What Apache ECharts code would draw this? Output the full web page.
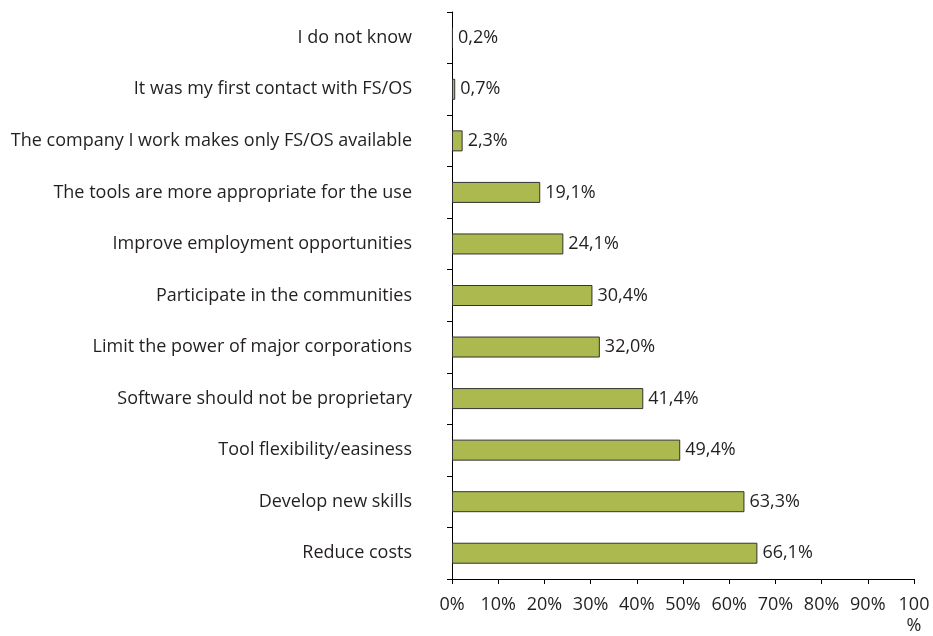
<!DOCTYPE html>
<html>
<head>
<meta charset="utf-8">
<script src="https://cdn.jsdelivr.net/npm/echarts@6/dist/echarts.min.js"></script>
<style>
  html, body { margin: 0; padding: 0; background: #fff; }
  #chart { width: 933px; height: 636px; }
</style>
</head>
<body>
<div id="chart"></div>
<script>
// Reasons given for using FS/OS, share of respondents (%)
const categories = [
  "Reduce costs",
  "Develop new skills",
  "Tool flexibility/easiness",
  "Software should not be proprietary",
  "Limit the power of major corporations",
  "Participate in the communities",
  "Improve employment opportunities",
  "The tools are more appropriate for the use",
  "The company I work makes only FS/OS available",
  "It was my first contact with FS/OS",
  "I do not know"
];
const values = [66.1, 63.3, 49.4, 41.4, 32.0, 30.4, 24.1, 19.1, 2.3, 0.7, 0.2];
const xTicks = [0, 10, 20, 30, 40, 50, 60, 70, 80, 90, 100];

const textColor = "#231f20";
const fontFamily = "'Open Sans', 'Noto Sans', sans-serif";

const chart = echarts.init(document.getElementById("chart"), null, { renderer: "canvas" });
chart.setOption({
  animation: false,
  backgroundColor: "#ffffff",
  grid: { left: 452, right: 19, top: 12, bottom: 54, containLabel: false },
  xAxis: {
    type: "value",
    min: xTicks[0],
    max: xTicks[xTicks.length - 1],
    interval: 10,
    axisLine: { show: true, lineStyle: { color: "#000", width: 1 } },
    axisTick: { show: true, length: 5, inside: false, lineStyle: { color: "#000" } },
    splitLine: { show: false },
    axisLabel: {
      color: textColor,
      fontFamily: fontFamily,
      fontSize: 18,
      margin: 15,
      lineHeight: 21,
      formatter: v => (v === 100 ? "100\n%" : v + "%")
    }
  },
  yAxis: {
    type: "category",
    data: categories,
    axisLine: { show: true, lineStyle: { color: "#000", width: 1 } },
    axisTick: { show: true, length: 5, inside: false, alignWithLabel: false, lineStyle: { color: "#000" } },
    axisLabel: {
      color: textColor,
      fontFamily: fontFamily,
      fontSize: 18,
      margin: 40
    },
    splitLine: { show: false }
  },
  series: [{
    type: "bar",
    data: values,
    barWidth: 21,
    itemStyle: { color: "#acb94f", borderColor: "#333", borderWidth: 1 },
    label: {
      show: true,
      position: "right",
      distance: 5,
      color: textColor,
      fontFamily: fontFamily,
      fontSize: 18,
      formatter: p => p.value.toFixed(1).replace(".", ",") + "%"
    }
  }]
});
</script>
</body>
</html>
